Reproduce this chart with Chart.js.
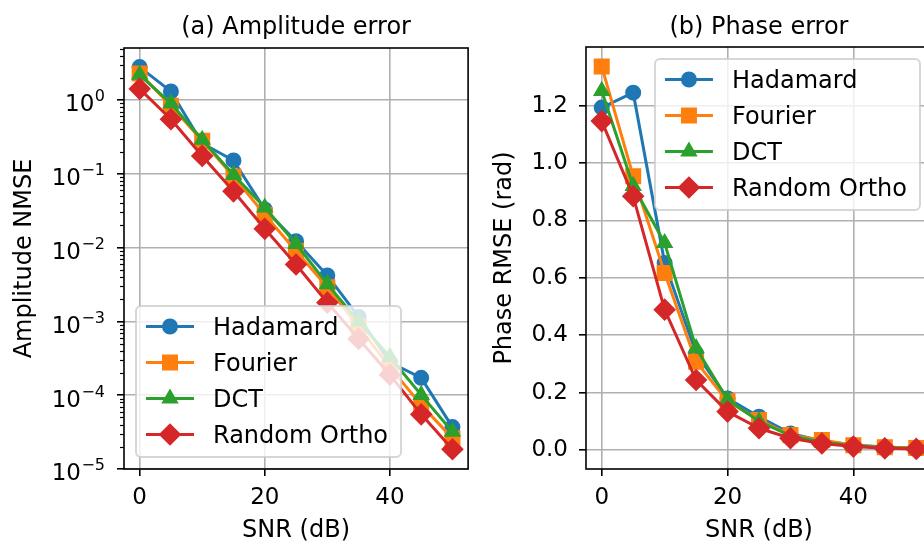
<!DOCTYPE html>
<html>
<head>
<meta charset="utf-8">
<title>Amplitude and phase error vs SNR</title>
<script src="https://cdn.jsdelivr.net/npm/chart.js@4.4.1/dist/chart.umd.min.js"></script>
<style>
  html, body { margin: 0; padding: 0; background: #fff; overflow: hidden; }
  body { width: 924px; height: 542px; position: relative; }
  canvas { position: absolute; top: 0; }
  #amp { left: 0; }
  #phase { left: 480px; }
</style>
</head>
<body>
<canvas id="amp" width="480" height="542"></canvas>
<canvas id="phase" width="480" height="542"></canvas>
<script>
// SNR sweep (dB)
const snr = [0, 5, 10, 15, 20, 25, 30, 35, 40, 45, 50];

const names = ['Hadamard', 'Fourier', 'DCT', 'Random Ortho'];
const colors = ['#1f77b4', '#ff7f0e', '#2ca02c', '#d62728'];
const markers = ['circle', 'rect', 'triangle', 'rectRot'];
const markerRadius = [7, 9.9, 8.1, 9.9];

// (a) amplitude NMSE
const ampHadamard = [2.8, 1.31, 0.26, 0.152, 0.033, 0.0122, 0.0042, 0.00115, 0.00028, 0.000172, 0.000037];
const ampFourier = [2.3, 0.84, 0.28, 0.092, 0.028, 0.0090, 0.0029, 0.00085, 0.00024, 0.000074, 0.000026];
const ampDCT = [2.2, 0.9, 0.29, 0.097, 0.035, 0.0112, 0.0032, 0.0010, 0.00033, 0.000101, 0.000032];
const ampRandom = [1.42, 0.55, 0.175, 0.058, 0.018, 0.0059, 0.0018, 0.00058, 0.00019, 0.000055, 0.0000185];

// (b) phase RMSE (rad)
const phaseHadamard = [1.193, 1.245, 0.652, 0.337, 0.180, 0.116, 0.058, 0.032, 0.018, 0.011, 0.006];
const phaseFourier = [1.336, 0.954, 0.617, 0.308, 0.170, 0.105, 0.052, 0.035, 0.017, 0.010, 0.007];
const phaseDCT = [1.251, 0.92, 0.721, 0.355, 0.175, 0.100, 0.050, 0.028, 0.015, 0.009, 0.005];
const phaseRandom = [1.146, 0.884, 0.489, 0.244, 0.134, 0.076, 0.041, 0.023, 0.012, 0.006, 0.004];

// axis ticks / ranges
const snrTicks = [0, 20, 40];
const ampTicks = [1e-5, 1e-4, 1e-3, 1e-2, 1e-1, 1];
const phaseTicks = [0, 0.2, 0.4, 0.6, 0.8, 1.0, 1.2];
const snrRange = [-2.5, 52.5];
const ampRange = [1e-5, 5.08];
const phaseRange = [-0.066, 1.404];

const FONT = "'DejaVu Sans', sans-serif";
Chart.defaults.font.family = FONT;
Chart.defaults.color = '#000';

function series(values) {
  return values.map((v, i) => ({ x: snr[i], y: v }));
}

function makeDatasets(groups) {
  return groups.map((vals, i) => ({
    label: names[i],
    data: series(vals),
    borderColor: colors[i],
    backgroundColor: colors[i],
    borderWidth: 3,
    borderJoinStyle: 'round',
    pointStyle: markers[i],
    pointRadius: markerRadius[i],
    pointBorderWidth: 2,
    pointHoverRadius: markerRadius[i],
    tension: 0,
    order: names.length - i // later series drawn on top
  }));
}

// axes frame, minor log ticks, 10^n labels and the panel title
const panelFrame = {
  id: 'panelFrame',
  afterDatasetsDraw(chart, args, opts) {
    const { ctx, chartArea: a, scales } = chart;
    ctx.save();
    if (opts.log) {
      const y = scales.y;
      ctx.strokeStyle = '#000';
      ctx.lineWidth = 1.2;
      y.ticks.forEach(t => {
        if (t.major) return;
        const py = Math.round(y.getPixelForValue(t.value)) + 0.5;
        ctx.beginPath();
        ctx.moveTo(a.left - 4, py);
        ctx.lineTo(a.left, py);
        ctx.stroke();
      });
    }
    ctx.strokeStyle = '#000';
    ctx.lineWidth = 1.6;
    ctx.strokeRect(a.left, a.top, a.right - a.left, a.bottom - a.top);
    ctx.restore();
  },
  afterDraw(chart, args, opts) {
    const { ctx, chartArea: a, scales } = chart;
    ctx.save();
    ctx.fillStyle = '#000';
    ctx.textBaseline = 'alphabetic';

    if (opts.log) {
      // "10" with a raised exponent, right aligned against the tick marks
      const y = scales.y;
      const rx = a.left - 19;
      ctx.textAlign = 'right';
      y.ticks.forEach(t => {
        if (!t.major) return;
        const py = y.getPixelForValue(t.value);
        const e = Math.round(Math.log10(t.value));
        const exp = e < 0 ? '\u2212' + (-e) : String(e);
        ctx.font = '16px ' + FONT;
        ctx.fillText(exp, rx, py + 1.4);
        const ew = ctx.measureText(exp).width;
        ctx.font = '23px ' + FONT;
        ctx.fillText('10', rx - ew - 0.5, py + 11.4);
      });
    }

    ctx.font = '24px ' + FONT;
    ctx.textAlign = 'center';
    ctx.fillText(opts.title, (a.left + a.right) / 2, 34);
    ctx.restore();
  }
};

// matplotlib-style legend box placed inside the axes
const boxLegend = {
  id: 'boxLegend',
  afterDatasetsDraw(chart, args, opts) {
    const { ctx, chartArea: a } = chart;
    const sets = chart.data.datasets;
    ctx.save();
    ctx.font = '24px ' + FONT;
    const textW = Math.max(...sets.map(d => ctx.measureText(d.label).width));
    const w = textW + 90;
    const h = 151;
    const x = opts.corner === 'lower left' ? a.left + 12 : a.right - 12 - w;
    const y = opts.corner === 'lower left' ? a.bottom - 12 - h : a.top + 12;

    ctx.beginPath();
    ctx.roundRect(x, y, w, h, 5);
    ctx.fillStyle = 'rgba(255,255,255,0.8)';
    ctx.fill();
    ctx.lineWidth = 2;
    ctx.strokeStyle = 'rgba(204,204,204,0.8)';
    ctx.stroke();

    sets.forEach((d, i) => {
      const cy = y + 20.5 + i * 36;
      ctx.strokeStyle = d.borderColor;
      ctx.fillStyle = d.backgroundColor;
      ctx.lineWidth = 3;
      ctx.beginPath();
      ctx.moveTo(x + 10, cy);
      ctx.lineTo(x + 58, cy);
      ctx.stroke();
      ctx.lineWidth = 2;
      Chart.helpers.drawPoint(ctx, {
        pointStyle: d.pointStyle, radius: d.pointRadius, rotation: 0, borderWidth: 2
      }, x + 34, cy);
      ctx.fillStyle = '#000';
      ctx.textBaseline = 'alphabetic';
      ctx.fillText(d.label, x + 77, cy + 8.8);
    });
    ctx.restore();
  }
};

function makeChart(id, cfg) {
  const tickFont = { size: 23 };
  const labelFont = { size: 24 };
  return new Chart(document.getElementById(id), {
    type: 'line',
    data: { datasets: makeDatasets(cfg.groups) },
    options: {
      responsive: false,
      animation: false,
      layout: { padding: { top: cfg.top, right: cfg.right, left: 0, bottom: 0 } },
      plugins: {
        legend: { display: false },
        tooltip: { enabled: false },
        panelFrame: { title: cfg.title, log: cfg.log },
        boxLegend: { corner: cfg.legendCorner }
      },
      scales: {
        x: {
          type: 'linear',
          min: snrRange[0],
          max: snrRange[1],
          bounds: 'data',
          afterBuildTicks: (scale) => { scale.ticks = snrTicks.map(v => ({ value: v })); },
          afterFit: (scale) => { scale.height = 73; },
          border: { display: false },
          grid: { color: '#b0b0b0', lineWidth: 1.6, tickColor: '#000', tickWidth: 1.6, tickLength: 7 },
          ticks: { font: tickFont, padding: 8, maxRotation: 0, autoSkip: false },
          title: { display: true, text: 'SNR (dB)', font: { size: 24, lineHeight: 0.95 }, padding: { top: 0, bottom: 0 } }
        },
        y: {
          type: cfg.log ? 'logarithmic' : 'linear',
          min: cfg.range[0],
          max: cfg.range[1],
          bounds: 'data',
          afterBuildTicks: (scale) => { scale.ticks = cfg.ticks(); },
          afterFit: (scale) => { scale.width = cfg.axisWidth; },
          border: { display: false },
          grid: {
            color: (c) => (c.tick && c.tick.major === false ? 'rgba(0,0,0,0)' : '#b0b0b0'),
            tickColor: (c) => (c.tick && c.tick.major === false ? 'rgba(0,0,0,0)' : '#000'),
            lineWidth: 1.6,
            tickWidth: 1.6,
            tickLength: 7
          },
          ticks: { font: tickFont, padding: 11, autoSkip: false, callback: cfg.label },
          title: { display: true, text: cfg.yTitle, font: labelFont, padding: { top: 10, bottom: 0 } }
        }
      }
    },
    plugins: [panelFrame, boxLegend]
  });
}

// log axis: labelled decades plus unlabelled 2..9 minor ticks
function ampTickList() {
  const list = [];
  ampTicks.forEach(v => {
    list.push({ value: v, major: true });
    for (let k = 2; k <= 9; k++) {
      const m = k * v;
      if (m < ampRange[1]) list.push({ value: m, major: false });
    }
  });
  return list;
}

makeChart('amp', {
  title: '(a) Amplitude error',
  yTitle: 'Amplitude NMSE',
  groups: [ampHadamard, ampFourier, ampDCT, ampRandom],
  log: true,
  range: ampRange,
  ticks: ampTickList,
  label: () => '', // decade labels are drawn by panelFrame
  axisWidth: 124,
  top: 48,
  right: 10,
  legendCorner: 'lower left'
});

makeChart('phase', {
  title: '(b) Phase error',
  yTitle: 'Phase RMSE (rad)',
  groups: [phaseHadamard, phaseFourier, phaseDCT, phaseRandom],
  log: false,
  range: phaseRange,
  ticks: () => phaseTicks.map(v => ({ value: v, major: true })),
  label: (v) => v.toFixed(1),
  axisWidth: 106,
  top: 47,
  right: 28,
  legendCorner: 'upper right'
});
</script>
</body>
</html>
